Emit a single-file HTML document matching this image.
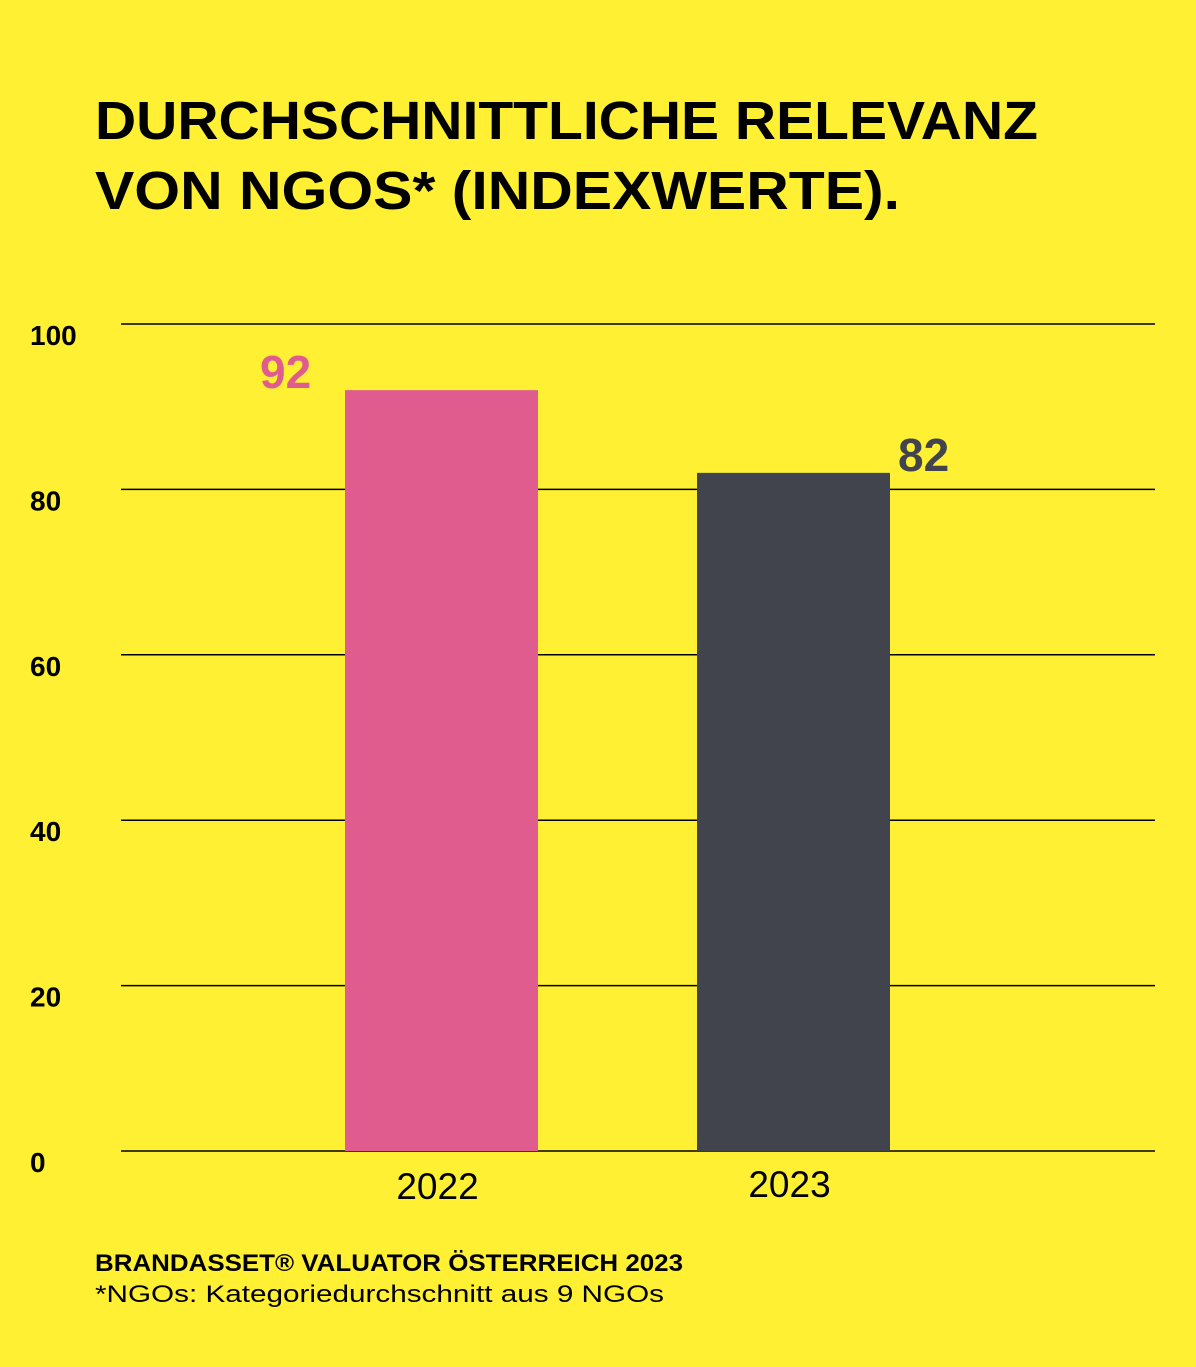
<!DOCTYPE html>
<html><head><meta charset="utf-8"><style>
html,body{margin:0;padding:0;background:#FFF033;}
svg{display:block;font-family:"Liberation Sans",sans-serif;}
</style></head><body>
<svg id="chart" width="1196" height="1367" viewBox="0 0 1196 1367">
<rect x="0" y="0" width="1196" height="1367" fill="#FFF033"/>
<text x="95" y="139" font-size="54" font-weight="bold" textLength="943" lengthAdjust="spacingAndGlyphs" fill="#000">DURCHSCHNITTLICHE RELEVANZ</text>
<text x="95" y="209" font-size="54" font-weight="bold" textLength="805" lengthAdjust="spacingAndGlyphs" fill="#000">VON NGOS* (INDEXWERTE).</text>
<g id="grid"></g>
<g id="bars"></g>
<text x="95" y="1271" font-size="24" font-weight="bold" textLength="588" lengthAdjust="spacingAndGlyphs" fill="#000">BRANDASSET®  VALUATOR ÖSTERREICH 2023</text>
<text x="95" y="1302" font-size="24" textLength="569" lengthAdjust="spacingAndGlyphs" fill="#000">*NGOs: Kategoriedurchschnitt aus 9 NGOs</text>
</svg>
<script>
const categories = ["2022", "2023"];
const values = [92, 82];
const valueLabels = ["92", "82"];
const ticks = [0, 20, 40, 60, 80, 100];
const tickLabels = ["0", "20", "40", "60", "80", "100"];

const NS = "http://www.w3.org/2000/svg";
const y0 = 1151, y100 = 324;
function yScale(v){ return y0 - (y0 - y100) * v / 100; }
const barX = [345, 697], barW = 193;
const colors = ["#E05C8F", "#41444C"];
function mk(tag, attrs, parent){
  const e = document.createElementNS(NS, tag);
  for (const k in attrs) e.setAttribute(k, attrs[k]);
  parent.appendChild(e); return e;
}
const grid = document.getElementById("grid");
ticks.forEach((t, i) => {
  const y = yScale(t);
  const l = mk("line", {x1:121, x2:1155, y1:y, y2:y, stroke:"#000", "stroke-width":1.5}, grid);
  
  
  const tx = mk("text", {x:30, y:y + 21, "font-size":28, "font-weight":"bold", fill:"#000"}, grid);
  tx.textContent = tickLabels[i];
  
  
});
const bars = document.getElementById("bars");
categories.forEach((c, i) => {
  const top = yScale(values[i]);
  const r = mk("rect", {x:barX[i], y:top, width:barW, height:y0 - top, fill:colors[i]}, bars);
  
  
  const vx = i === 0 ? barX[i] - 85 : barX[i] + barW + 8;
  const v = mk("text", {x:vx, y:top - 2, "font-size":46, "font-weight":"bold", fill:colors[i]}, bars);
  v.textContent = valueLabels[i];
  
  
  const xl = mk("text", {x:barX[i] + barW/2 - 4 - (i===0?48:0) + (i===0?48:0), y:i===0?1199:1197, "font-size":37, "text-anchor":"middle", fill:"#000"}, bars);
  xl.textContent = c;
  
  
});
</script>
</body></html>
